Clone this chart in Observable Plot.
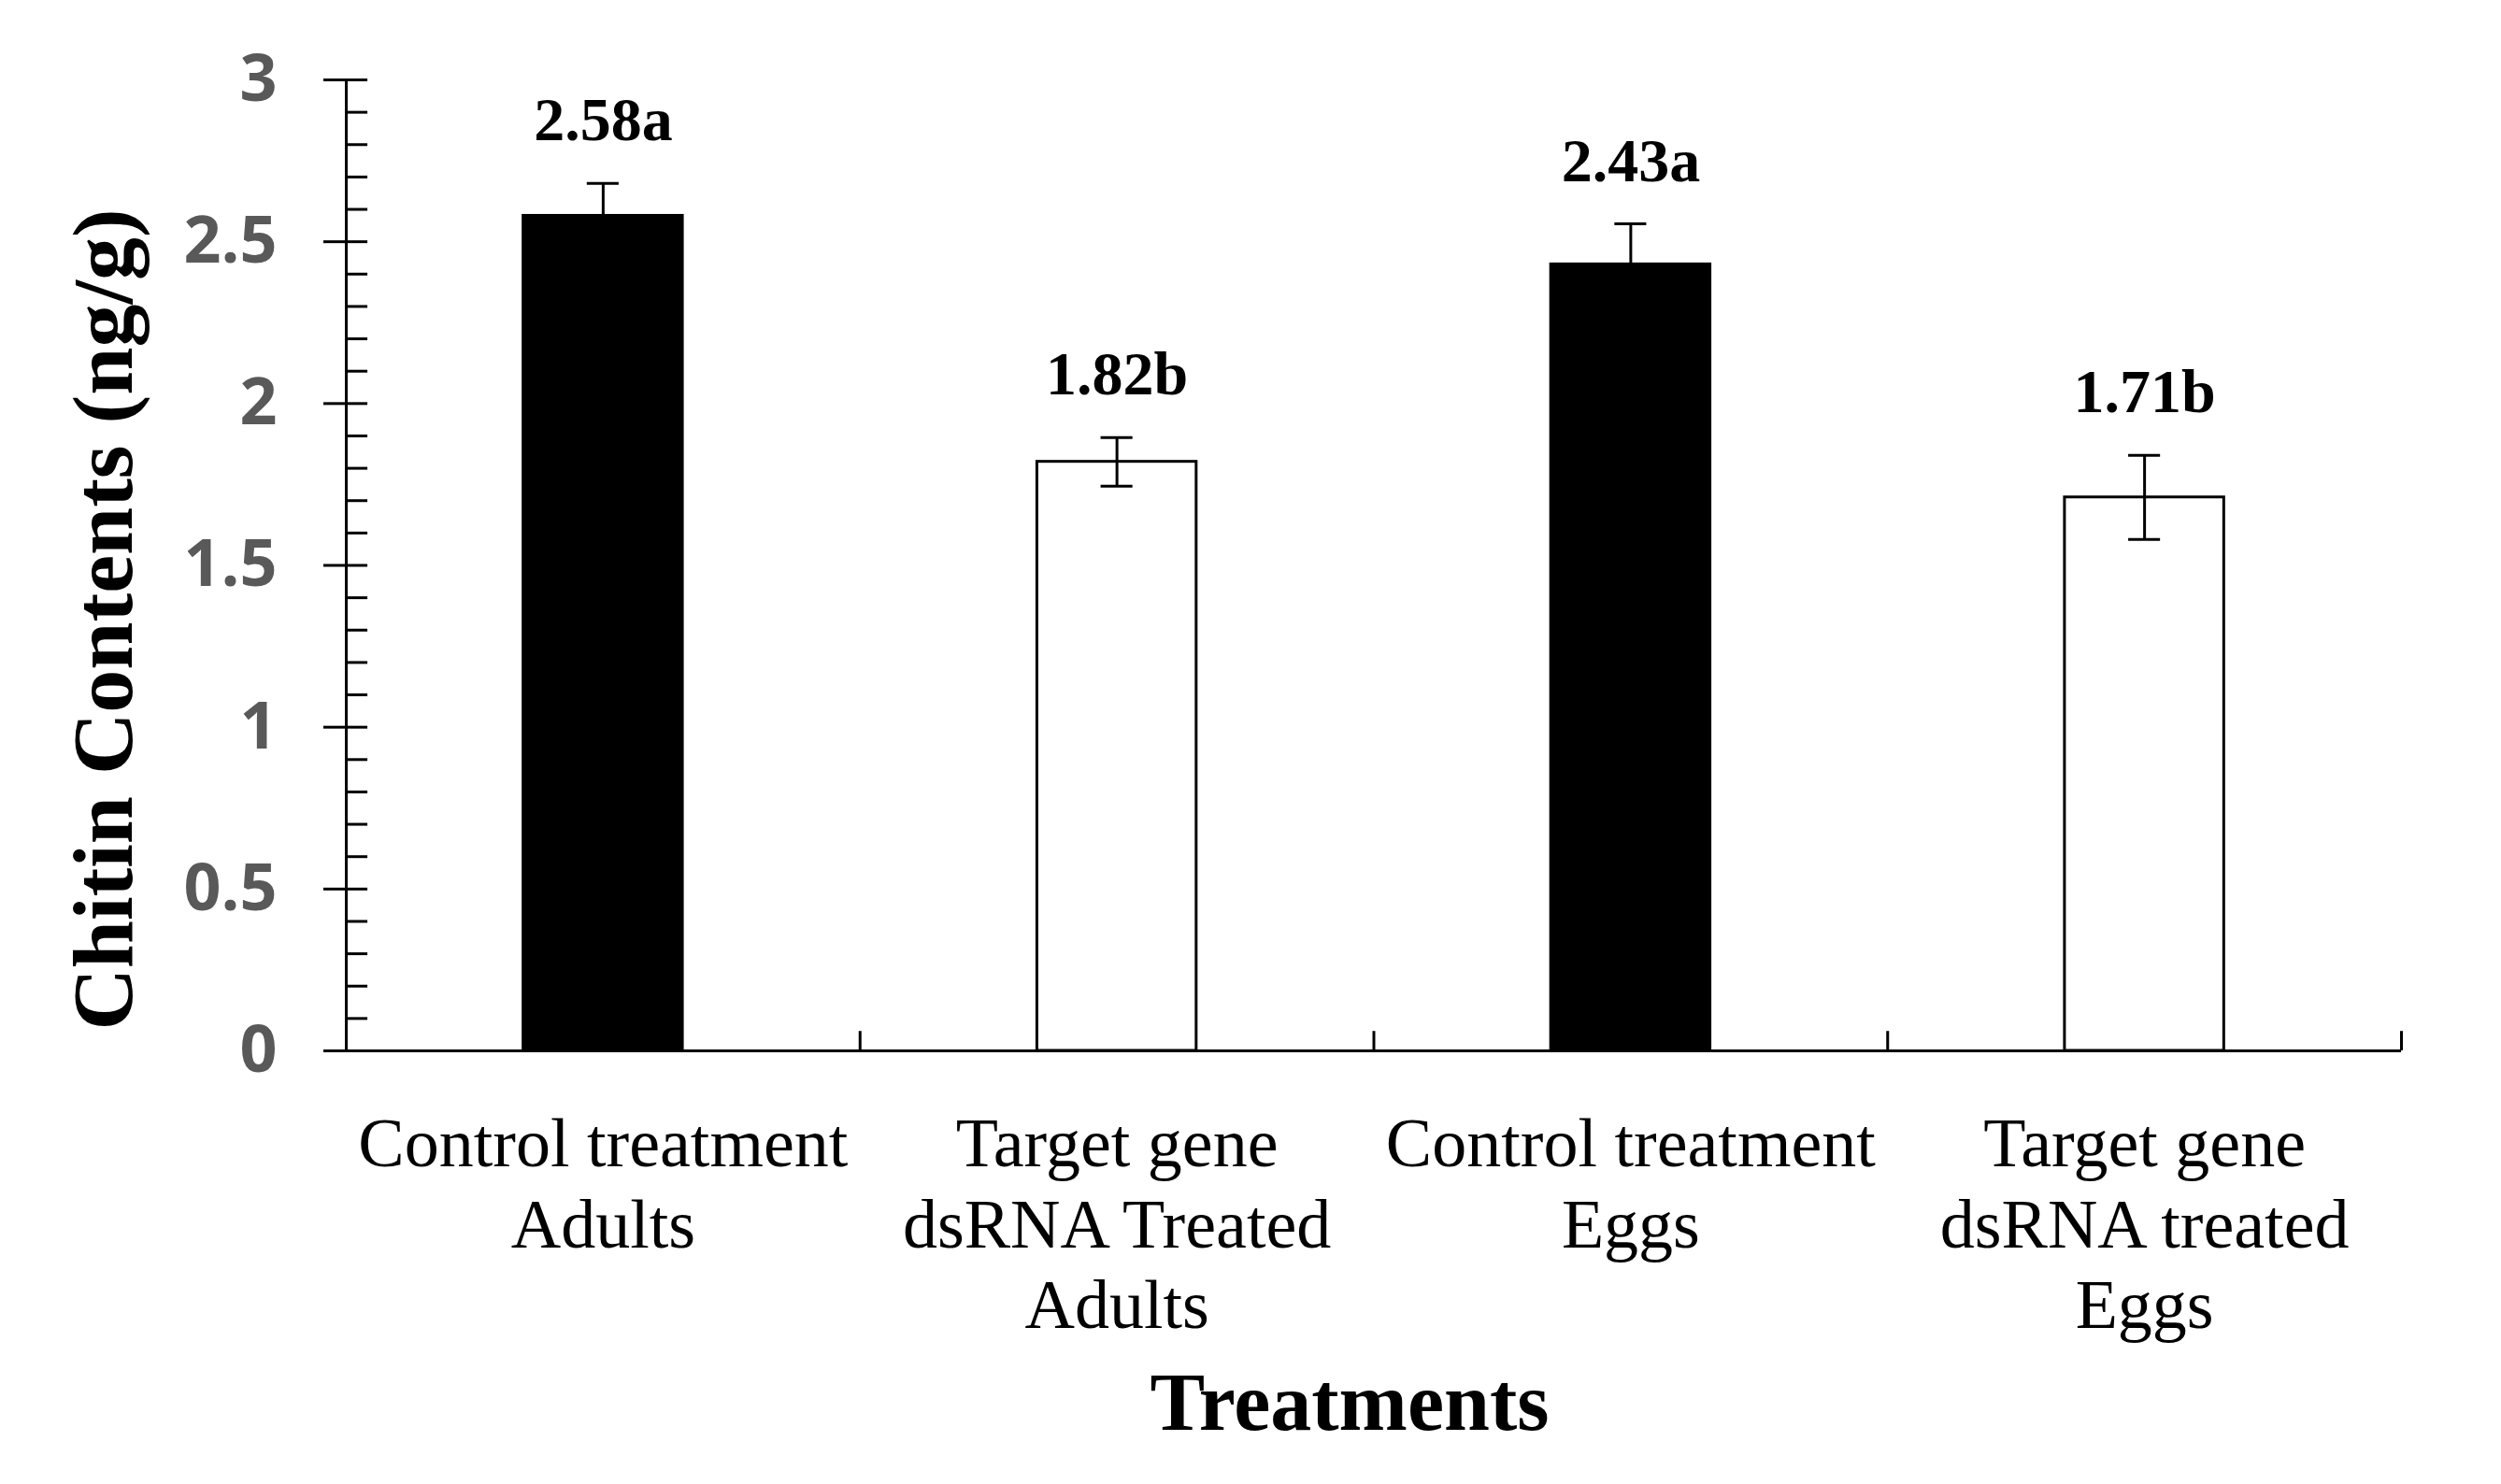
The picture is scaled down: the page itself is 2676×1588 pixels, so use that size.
<!DOCTYPE html>
<html>
<head>
<meta charset="utf-8">
<script src="https://cdn.jsdelivr.net/npm/d3@7"></script>
<script src="https://cdn.jsdelivr.net/npm/@observablehq/plot@0.6"></script>
<style>
  html, body { margin: 0; padding: 0; background: #ffffff; }
  #chart svg { display: block; }
</style>
</head>
<body>
<div id="chart"></div>
<script>
// ---- data ----
const categories = [
  "Control treatment\nAdults",
  "Target gene\ndsRNA Treated\nAdults",
  "Control treatment\nEggs",
  "Target gene\ndsRNA treated\nEggs"
];
const values = [2.58, 1.82, 2.43, 1.71];
const errors = [0.10, 0.075, 0.125, 0.13];
const letters = ["a", "b", "a", "b"];
const barFills = ["#000000", "#ffffff", "#000000", "#ffffff"];
const yMajorTicks = [0, 0.5, 1, 1.5, 2, 2.5, 3];
const yMinorTicks = [0.1,0.2,0.3,0.4,0.5,0.6,0.7,0.8,0.9,1.0,1.1,1.2,1.3,1.4,1.5,1.6,1.7,1.8,1.9,2.0,2.1,2.2,2.3,2.4,2.5,2.6,2.7,2.8,2.9,3.0];
const yTitle = "Chitin Contents (ng/g)";
const xTitle = "Treatments";

const rows = categories.map((c, i) => ({
  i, category: c, value: values[i], se: errors[i],
  label: values[i].toFixed(2) + letters[i], fill: barFills[i]
}));

const W = 2676, H = 1588;
const serif = "'Liberation Serif', 'Times New Roman', serif";

const chart = Plot.plot({
  width: W,
  height: H,
  marginLeft: 370,
  marginRight: 107,
  marginTop: 85,
  marginBottom: 464,
  style: { background: "#ffffff", overflow: "visible" },
  x: { type: "linear", domain: [0, 4], axis: null },
  y: { domain: [0, 3], axis: null },
  marks: [
    // bars
    Plot.rectY(rows, {
      x1: d => d.i + 0.345, x2: d => d.i + 0.655,
      y1: 0, y2: "value",
      fill: "fill", stroke: "#000000", strokeWidth: 3
    }),
    // error bars
    Plot.ruleX(rows, { x: d => d.i + 0.5, y1: d => d.value - d.se, y2: d => d.value + d.se, stroke: "#000000", strokeWidth: 3 }),
    Plot.ruleY(rows, { y: d => d.value + d.se, x1: d => d.i + 0.5 - 0.031, x2: d => d.i + 0.5 + 0.031, stroke: "#000000", strokeWidth: 3 }),
    Plot.ruleY(rows, { y: d => d.value - d.se, x1: d => d.i + 0.5 - 0.031, x2: d => d.i + 0.5 + 0.031, stroke: "#000000", strokeWidth: 3 }),
    // value labels
    Plot.text(rows, {
      x: d => d.i + 0.5, y: d => d.value + d.se, text: "label",
      dy: -67, lineAnchor: "middle",
      fontFamily: serif, fontWeight: "bold", fontSize: 66, fill: "#000000"
    }),
    // axis lines
    Plot.ruleX([0], { stroke: "#000000", strokeWidth: 3 }),
    Plot.ruleY([0], { stroke: "#000000", strokeWidth: 3 }),
    // y inner minor ticks
    Plot.ruleY(yMinorTicks, { y: d => d, x1: 0, x2: 0.042, stroke: "#000000", strokeWidth: 3 }),
    // y outer major ticks
    Plot.axisY({ ticks: yMajorTicks, tickSize: 24, text: null, strokeWidth: 3, stroke: "#000000", label: null }),
    // y tick labels
    Plot.axisY({
      ticks: yMajorTicks, tickSize: 0, tickPadding: 74, label: null,
      tickFormat: d => String(d),
      fontFamily: "'Open Sans', sans-serif", fontWeight: "bold", fontSize: 70, fill: "#595959"
    }),
    // category separator ticks on x axis
    Plot.ruleX([1, 2, 3, 4], { x: d => d, y1: 0, y2: 0.06, stroke: "#000000", strokeWidth: 3 }),
    // x tick labels
    Plot.axisX({
      ticks: [0.5, 1.5, 2.5, 3.5], tickSize: 0, tickPadding: 62, label: null,
      tickFormat: d => categories[Math.floor(d)],
      fontFamily: serif, fontSize: 74, lineHeight: 1.17, fill: "#000000"
    }),
    // axis titles
    Plot.text([yTitle], {
      frameAnchor: "left", text: d => d, rotate: -90, dx: -259, dy: 58,
      textAnchor: "middle", lineAnchor: "middle",
      fontFamily: serif, fontWeight: "bold", fontSize: 92, fill: "#000000"
    }),
    Plot.text([xTitle], {
      frameAnchor: "bottom", text: d => d, dx: -26, dy: 377,
      textAnchor: "middle", lineAnchor: "middle",
      fontFamily: serif, fontWeight: "bold", fontSize: 88, fill: "#000000"
    })
  ]
});

document.getElementById("chart").appendChild(chart);
</script>
</body>
</html>
